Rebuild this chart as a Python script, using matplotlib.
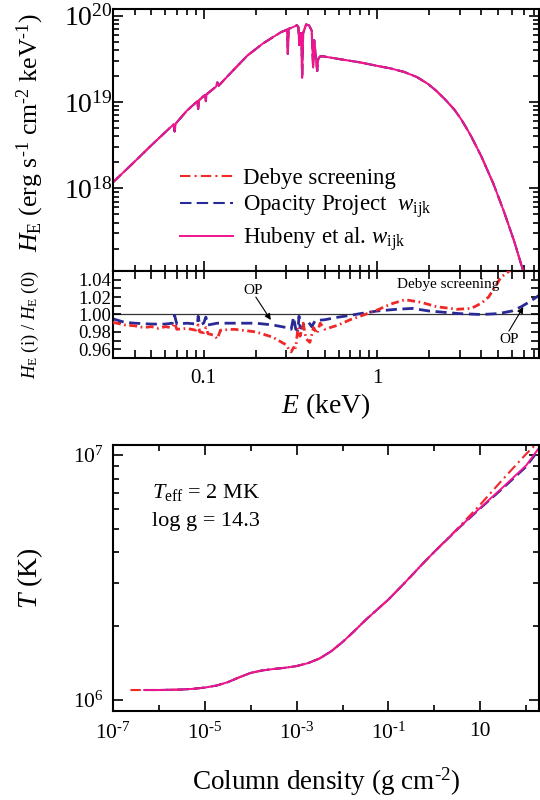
import numpy as np
import matplotlib
matplotlib.use("Agg")
import matplotlib.pyplot as plt
from matplotlib.ticker import FixedLocator, FixedFormatter, NullFormatter

plt.rcParams.update({
    "font.family": "Liberation Serif",
    "mathtext.fontset": "custom",
    "mathtext.rm": "Liberation Serif",
    "mathtext.it": "Liberation Serif:italic",
    "mathtext.bf": "Liberation Serif:bold",
    "axes.linewidth": 1.5,
})

# ---- emergent spectrum (energy in keV, log10 of H_E) ----
spec_E = [0.030, 0.040, 0.050, 0.060, 0.067, 0.068, 0.069, 0.080, 0.092, 0.093,
          0.094, 0.100, 0.102, 0.103, 0.104, 0.118, 0.120, 0.122, 0.150, 0.179,
          0.220, 0.250, 0.279, 0.303, 0.306, 0.309, 0.320, 0.345, 0.352, 0.356,
          0.360, 0.366, 0.370, 0.375, 0.390, 0.405, 0.420, 0.428, 0.434, 0.440,
          0.452, 0.458, 0.470, 0.490, 0.60, 0.80, 1.00, 1.20, 1.43, 1.70,
          1.97, 2.20, 2.50, 2.80, 3.06, 3.30, 3.50, 4.00, 4.70, 5.40,
          6.20, 7.00, 7.30]
spec_logH = [18.07, 18.31, 18.50, 18.65, 18.74, 18.66, 18.75, 18.90, 19.01, 18.92,
             19.02, 19.07, 19.08, 19.01, 19.09, 19.18, 19.23, 19.19, 19.38, 19.54,
             19.68, 19.75, 19.81, 19.84, 19.56, 19.85, 19.86, 19.89, 19.87, 19.66,
             19.80, 19.80, 19.28, 19.80, 19.90, 19.89, 19.83, 19.40, 19.72, 19.60,
             19.36, 19.50, 19.53, 19.53, 19.50, 19.46, 19.42, 19.39, 19.35, 19.29,
             19.21, 19.13, 19.02, 18.91, 18.80, 18.69, 18.60, 18.37, 18.05, 17.73,
             17.38, 17.03, 16.88]

# ---- flux ratios relative to the Hubeny et al. model ----
debye_E = [0.030, 0.035, 0.040, 0.045, 0.050, 0.055, 0.060, 0.065, 0.068, 0.070,
           0.080, 0.090, 0.093, 0.095, 0.100, 0.103, 0.106, 0.115, 0.120, 0.125,
           0.150, 0.200, 0.250, 0.300, 0.310, 0.320, 0.330, 0.340, 0.350, 0.360,
           0.375, 0.390, 0.410, 0.430, 0.450, 0.470, 0.500, 0.600, 0.700, 0.800,
           1.00, 1.20, 1.45, 1.80, 2.20, 2.90, 3.50, 4.00, 4.40, 5.20, 5.80, 6.00]
debye_ratio = [0.991, 0.988, 0.987, 0.985, 0.986, 0.984, 0.986, 0.985, 0.990, 0.983,
               0.984, 0.982, 0.988, 0.980, 0.979, 0.985, 0.978, 0.976, 0.972, 0.982,
               0.983, 0.980, 0.974, 0.965, 0.960, 0.957, 0.962, 0.962, 0.985, 0.975,
               0.990, 0.972, 0.968, 0.985, 0.978, 0.990, 0.983, 0.988, 0.994, 0.998,
               1.005, 1.012, 1.017, 1.014, 1.009, 1.006, 1.007, 1.013, 1.020, 1.043, 1.050, 1.056]

op_E = [0.030, 0.035, 0.040, 0.050, 0.060, 0.066, 0.068, 0.070, 0.080, 0.092,
        0.093, 0.095, 0.100, 0.103, 0.106, 0.120, 0.150, 0.200, 0.250, 0.300,
        0.320, 0.330, 0.340, 0.350, 0.355, 0.360, 0.370, 0.380, 0.400, 0.420,
        0.440, 0.500, 0.600, 0.700, 0.800, 1.00, 1.30, 1.60, 2.00, 3.00,
        4.00, 5.00, 6.00, 6.80, 7.50, 8.60]
op_ratio = [0.995, 0.991, 0.990, 0.989, 0.989, 0.990, 0.999, 0.989, 0.990, 0.989,
            0.998, 0.988, 0.990, 0.997, 0.988, 0.990, 0.990, 0.990, 0.988, 0.985,
            0.983, 0.997, 0.983, 0.982, 0.998, 0.985, 0.984, 0.990, 0.992, 0.986,
            0.993, 0.994, 0.997, 0.999, 1.001, 1.004, 1.006, 1.007, 1.004, 1.001,
            1.000, 1.001, 1.004, 1.009, 1.014, 1.022]

# ---- temperature structure (log10 column density, log10 T) ----
hub_logm = [-6.32, -6.00, -5.50, -5.25, -5.00, -4.75, -4.50, -4.25, -4.00, -3.75,
            -3.50, -3.25, -3.00, -2.75, -2.50, -2.25, -2.00, -1.75, -1.50, -1.25,
            -1.00, -0.75, -0.50, -0.25, 0.00, 0.50, 1.00, 1.50, 2.00, 2.30]
hub_logT = [6.040, 6.040, 6.042, 6.045, 6.050, 6.058, 6.072, 6.092, 6.110, 6.120,
            6.126, 6.131, 6.138, 6.150, 6.169, 6.198, 6.236, 6.280, 6.326, 6.368,
            6.410, 6.458, 6.507, 6.557, 6.605, 6.697, 6.785, 6.870, 6.958, 7.035]
op_logm = [-6.32, -6.00, -5.50, -5.25, -5.00, -4.75, -4.50, -4.25, -4.00, -3.75,
           -3.50, -3.25, -3.00, -2.75, -2.50, -2.25, -2.00, -1.75, -1.50, -1.25,
           -1.00, -0.75, -0.50, -0.25, 0.00, 0.50, 1.00, 1.50, 2.00, 2.30]
op_logT = [6.040, 6.040, 6.042, 6.045, 6.050, 6.058, 6.072, 6.092, 6.110, 6.120,
           6.126, 6.131, 6.138, 6.150, 6.169, 6.198, 6.236, 6.280, 6.326, 6.368,
           6.410, 6.458, 6.507, 6.557, 6.605, 6.696, 6.782, 6.865, 6.952, 7.027]
deb_logm = [-6.62, -6.00, -5.50, -5.25, -5.00, -4.75, -4.50, -4.25, -4.00, -3.75,
            -3.50, -3.25, -3.00, -2.75, -2.50, -2.25, -2.00, -1.75, -1.50, -1.25,
            -1.00, -0.75, -0.50, -0.25, 0.00, 0.50, 1.00, 1.50, 2.00, 2.30]
deb_logT = [6.040, 6.040, 6.042, 6.045, 6.050, 6.058, 6.072, 6.092, 6.110, 6.120,
            6.126, 6.131, 6.138, 6.150, 6.169, 6.198, 6.236, 6.280, 6.326, 6.368,
            6.410, 6.458, 6.507, 6.557, 6.605, 6.699, 6.798, 6.903, 7.005, 7.060]

RED = "#f02828"
BLUE = "#2a2a96"
MAG = "#f01490"
DASHDOT = (0, (5, 2, 1, 2))
DASHED = (0, (5.5, 2.5))

W, H = 540, 800


def rect(l, t, r, b):
    return [l / W, 1 - b / H, (r - l) / W, (b - t) / H]


def style_ticks(ax, maj=7, mnr=4.3):
    ax.tick_params(which="both", direction="in", top=True, right=True, width=1.2)
    ax.tick_params(which="major", length=maj)
    ax.tick_params(which="minor", length=mnr)


fig = plt.figure(figsize=(5.4, 8), dpi=100)
ax1 = fig.add_axes(rect(113, 9, 539, 271))
ax2 = fig.add_axes(rect(113, 271, 539, 358))
ax3 = fig.add_axes(rect(113, 445, 539, 711))

E_major = [0.1, 1.0]
E_minor = [0.03, 0.04, 0.05, 0.06, 0.07, 0.08, 0.09,
           0.2, 0.3, 0.4, 0.5, 0.6, 0.7, 0.8, 0.9,
           2, 3, 4, 5, 6, 7, 8]

# ---------------- spectrum ----------------
H_spec = 10 ** np.array(spec_logH)
ax1.plot(spec_E, H_spec, color=RED, lw=1.5, ls=DASHDOT, label="Debye screening")
ax1.plot(spec_E, H_spec, color=BLUE, lw=1.5, ls=DASHED,
         label=r"Opacity Project  $w_{\rm ijk}$")
ax1.plot(spec_E, H_spec, color=MAG, lw=1.4, label=r"Hubeny et al. $w_{\rm ijk}$")
ax1.set_xscale("log")
ax1.set_yscale("log")
ax1.set_xlim(0.03, 8.6)
ax1.set_ylim(1.1e17, 1.2e20)
ax1.xaxis.set_major_locator(FixedLocator(E_major))
ax1.xaxis.set_minor_locator(FixedLocator(E_minor))
ax1.xaxis.set_major_formatter(NullFormatter())
ax1.xaxis.set_minor_formatter(NullFormatter())
ax1.yaxis.set_major_locator(FixedLocator([1e18, 1e19, 1e20]))
ax1.yaxis.set_major_formatter(FixedFormatter([r"$10^{18}$", r"$10^{19}$", r"$10^{20}$"]))
ax1.yaxis.set_minor_locator(FixedLocator(
    [k * 10.0 ** d for d in (17, 18, 19) for k in range(2, 10)]))
ax1.yaxis.set_minor_formatter(NullFormatter())
style_ticks(ax1)
ax1.tick_params(axis="y", labelsize=20, pad=0.5)
ax1.set_ylabel(r"$H_{\rm E}$ (erg s$^{\text{-}1}$ cm$^{\text{-}2}$ keV$^{\text{-}1}$)",
               fontsize=18.5)
ax1.yaxis.set_label_coords(-0.158, 0.527)
ax1.legend(loc="upper left", bbox_to_anchor=(0.158, 0.395), frameon=False,
           fontsize=16.5, handlelength=2.3, handletextpad=0.45,
           labelspacing=0.22, borderpad=0, borderaxespad=0)

# ---------------- ratio ----------------
ax2.axhline(1.0, color="#333333", lw=0.9, zorder=1)
ax2.plot(op_E, op_ratio, color=BLUE, lw=2.0, ls=(0, (4, 2)), zorder=2)
ax2.plot(debye_E, debye_ratio, color=RED, lw=2.0, ls=(0, (2.8, 1.3, 0.6, 1.3)), zorder=3)
ax2.set_xscale("log")
ax2.set_xlim(0.03, 8.6)
ax2.set_ylim(0.95, 1.05)
ax2.xaxis.set_major_locator(FixedLocator(E_major))
ax2.xaxis.set_major_formatter(FixedFormatter(["0.1", "1"]))
ax2.xaxis.set_minor_locator(FixedLocator(E_minor))
ax2.xaxis.set_minor_formatter(NullFormatter())
ax2.yaxis.set_major_locator(FixedLocator([0.96, 0.98, 1.00, 1.02, 1.04]))
ax2.yaxis.set_major_formatter(FixedFormatter(["0.96", "0.98", "1.00", "1.02", "1.04"]))
ax2.yaxis.set_minor_locator(FixedLocator([0.95, 0.97, 0.99, 1.01, 1.03, 1.05]))
style_ticks(ax2, maj=6, mnr=6)
ax2.tick_params(axis="y", labelsize=13.5, pad=1.5)
ax2.tick_params(axis="x", labelsize=15, pad=8)
ax2.set_ylabel(r"$H_{\rm E}$ (i) / $H_{\rm E}$ (0)", fontsize=13.5)
ax2.yaxis.set_label_coords(-0.17, 0.385)
ax2.set_xlabel(r"$E$ (keV)", fontsize=20, labelpad=2)

arrow = dict(arrowstyle="-|>", color="black", lw=0.8, mutation_scale=9,
             shrinkA=0, shrinkB=0)
ax2.text(0.194, 1.028, "OP", fontsize=11, ha="center", va="center")
ax2.annotate("", xy=(0.244, 0.9937), xytext=(0.200, 1.020), arrowprops=arrow)
ax2.text(5.8, 0.971, "OP", fontsize=11, ha="center", va="center")
ax2.annotate("", xy=(6.98, 1.0086), xytext=(5.77, 0.981), arrowprops=arrow)
ax2.text(2.57, 1.034, "Debye screening", fontsize=11, ha="center", va="center")

# ---------------- temperature ----------------
ax3.plot(10 ** np.array(deb_logm), 10 ** np.array(deb_logT), color=RED, lw=1.5, ls=DASHDOT)
ax3.plot(10 ** np.array(op_logm), 10 ** np.array(op_logT), color=BLUE, lw=1.5, ls=DASHED)
ax3.plot(10 ** np.array(hub_logm), 10 ** np.array(hub_logT), color=MAG, lw=1.4)
ax3.set_xscale("log")
ax3.set_yscale("log")
ax3.set_xlim(1e-7, 190)
ax3.set_ylim(9.0e5, 1.1e7)
ax3.xaxis.set_major_locator(FixedLocator([1e-7, 1e-5, 1e-3, 1e-1, 10]))
ax3.xaxis.set_major_formatter(FixedFormatter(
    [r"$10^{\text{-}7}$", r"$10^{\text{-}5}$", r"$10^{\text{-}3}$",
     r"$10^{\text{-}1}$", "10"]))
ax3.xaxis.set_minor_locator(FixedLocator([1e-6, 1e-4, 1e-2, 1, 100]))
ax3.xaxis.set_minor_formatter(NullFormatter())
ax3.yaxis.set_major_locator(FixedLocator([1e6, 1e7]))
ax3.yaxis.set_major_formatter(FixedFormatter([r"$10^{6}$", r"$10^{7}$"]))
ax3.yaxis.set_minor_locator(FixedLocator([k * 1e6 for k in range(2, 10)]))
ax3.yaxis.set_minor_formatter(NullFormatter())
style_ticks(ax3, maj=7, mnr=4)
ax3.tick_params(axis="both", labelsize=15.5)
ax3.tick_params(axis="x", pad=8)
ax3.tick_params(axis="y", pad=6.5)
ax3.set_ylabel(r"$T$ (K)", fontsize=20)
ax3.yaxis.set_label_coords(-0.16, 0.5)
ax3.set_xlabel(r"Column density (g cm$^{\text{-}2}$)", fontsize=19.5, labelpad=16)
ax3.text(0.092, 0.823, r"$T_{\rm eff}$ = 2 MK", transform=ax3.transAxes,
         fontsize=16, ha="left", va="center")
ax3.text(0.092, 0.711, "log g = 14.3", transform=ax3.transAxes,
         fontsize=16, ha="left", va="center")

fig.savefig("out.png", dpi=100)
